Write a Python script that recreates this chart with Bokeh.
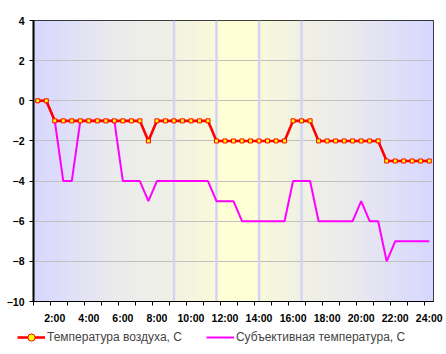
import numpy as np
from bokeh.plotting import figure
from bokeh.layouts import column
from bokeh.models import Range1d, FixedTicker, Legend, LegendItem
from bokeh.embed import file_html
from bokeh.resources import INLINE

# ---- data ----
times = ["1:00", "1:30", "2:00", "2:30", "3:00", "3:30", "4:00", "4:30", "5:00", "5:30",
         "6:00", "6:30", "7:00", "7:30", "8:00", "8:30", "9:00", "9:30", "10:00", "10:30",
         "11:00", "11:30", "12:00", "12:30", "13:00", "13:30", "14:00", "14:30", "15:00", "15:30",
         "16:00", "16:30", "17:00", "17:30", "18:00", "18:30", "19:00", "19:30", "20:00", "20:30",
         "21:00", "21:30", "22:00", "22:30", "23:00", "23:30", "24:00"]
air_temp = [0, 0, -1, -1, -1, -1, -1, -1, -1, -1, -1, -1, -1, -2, -1, -1, -1, -1, -1, -1,
            -1, -2, -2, -2, -2, -2, -2, -2, -2, -2, -1, -1, -1, -2, -2, -2, -2, -2, -2, -2,
            -2, -3, -3, -3, -3, -3, -3]
subj_temp = [0, 0, -1, -4, -4, -1, -1, -1, -1, -1, -4, -4, -4, -5, -4, -4, -4, -4, -4, -4,
             -4, -5, -5, -5, -6, -6, -6, -6, -6, -6, -4, -4, -4, -6, -6, -6, -6, -6, -5, -6,
             -6, -8, -7, -7, -7, -7, -7]
tick_labels = ["2:00", "4:00", "6:00", "8:00", "10:00", "12:00", "14:00", "16:00",
               "18:00", "20:00", "22:00", "24:00"]
band_times = ["9:00", "11:30", "14:00", "16:30"]
y_ticks = [-10, -8, -6, -4, -2, 0, 2, 4]
series_names = ["Температура воздуха, С", "Субъективная температура, С"]

xi = list(range(len(times)))
n = len(times)

p = figure(width=446, height=327, output_backend="svg", toolbar_location=None,
           x_range=Range1d(-0.5, n - 0.5), y_range=Range1d(-10, 4),
           min_border_left=33, min_border_right=13, min_border_top=20, min_border_bottom=26,
           background_fill_color="white", border_fill_color="white")
p.outline_line_color = "black"
p.outline_line_width = 1

# ---- background gradient (decorative) ----
stops_x = [-0.5, 9.0, 15.95, 16.0, 20.95, 21.05, 25.95, 26.05, 31.0, 36.5, n - 0.5]
stops_c = ["#CCCCFF", "#E5E5E9", "#ECECDF", "#EEEEDA", "#F7F7D1", "#FFFFCC",
           "#FFFFCC", "#F7F7D1", "#EDEDDC", "#E5E5E9", "#CCCCFF"]
rgb = np.array([[int(c[i:i + 2], 16) for i in (1, 3, 5)] for c in stops_c], dtype=float)
edges = np.linspace(-0.5, n - 0.5, 401)
mids = (edges[:-1] + edges[1:]) / 2
cols = []
for m in mids:
    r = np.interp(m, stops_x, rgb[:, 0]); g = np.interp(m, stops_x, rgb[:, 1]); b = np.interp(m, stops_x, rgb[:, 2])
    cols.append("#%02x%02x%02x" % (int(round(r)), int(round(g)), int(round(b))))
p.quad(left=edges[:-1], right=edges[1:] + 0.01, bottom=-10, top=4, fill_color=cols,
       line_color=None, level="image")

# grid
p.xgrid.visible = False
p.ygrid.ticker = FixedTicker(ticks=y_ticks)
p.ygrid.grid_line_color = "#C0C0C0"
p.ygrid.grid_line_width = 1

# vertical band lines
bx = [times.index(t) for t in band_times]
p.segment(x0=bx, y0=-10, x1=bx, y1=4, line_color="#D3D3F8", line_width=2.5)

# ---- series ----
m_line = p.line(xi, subj_temp, line_color="#FF00FF", line_width=2)
r_line = p.line(xi, air_temp, line_color="#FF0000", line_width=2.6)
r_pts = p.scatter(xi, air_temp, marker="square", size=4, fill_color="#FFFF00",
                  line_color="#FF0000", line_width=1)

# ---- axes ----
label_pos = [times.index(t) for t in tick_labels]
p.xaxis.ticker = FixedTicker(ticks=label_pos, minor_ticks=[k - 0.5 for k in range(0, n, 2)])
p.xaxis.major_label_overrides = {i: t for i, t in zip(label_pos, tick_labels)}
p.xaxis.major_tick_out = 0
p.xaxis.major_tick_in = 0
p.xaxis.minor_tick_out = 4
p.xaxis.minor_tick_in = 0
p.xaxis.minor_tick_line_color = "black"
p.xaxis.major_label_standoff = 6

p.yaxis.ticker = FixedTicker(ticks=y_ticks)
p.yaxis.major_tick_out = 4
p.yaxis.major_tick_in = 0
p.yaxis.minor_tick_out = 0
p.yaxis.minor_tick_in = 0
p.yaxis.major_label_standoff = 5
p.yaxis.axis_line_width = 2

for ax in (p.xaxis, p.yaxis):
    ax.axis_line_color = "black"
    ax.major_tick_line_color = "black"
    ax.major_label_text_font = "Liberation Sans"
    ax.major_label_text_font_style = "bold"
    ax.major_label_text_font_size = "10.5px"
    ax.major_label_text_color = "#000000"

# ---- legend (separate strip below the chart) ----
lf = figure(width=446, height=27, output_backend="svg", toolbar_location=None,
            x_range=Range1d(0, 1), y_range=Range1d(0, 1), min_border=0,
            background_fill_color="white", border_fill_color="white")
lf.axis.visible = False
lf.grid.visible = False
lf.outline_line_color = None
leg_x = 17
try:
    lf.frame_align = False
except Exception:
    leg_x = -16
lr_line = lf.line([-5, -4], [-5, -5], line_color="#FF0000", line_width=2.6)
lr_pts = lf.scatter([-5], [-5], marker="circle", size=3.5, fill_color="#FFFF00",
                    line_color="#FF0000", line_width=1)
lm_line = lf.line([-5, -4], [-5, -5], line_color="#FF00FF", line_width=2)
legend = Legend(items=[LegendItem(label=series_names[0], renderers=[lr_line, lr_pts]),
                       LegendItem(label=series_names[1], renderers=[lm_line])],
                orientation="horizontal", location=(leg_x, 8), margin=0, padding=0,
                glyph_width=28, glyph_height=18, label_standoff=2, spacing=24,
                label_text_font="Liberation Sans", label_text_font_size="12px",
                background_fill_alpha=0, border_line_color=None)
lf.add_layout(legend, "center")

open("out.html", "w").write(file_html(column(p, lf, spacing=0), INLINE))
